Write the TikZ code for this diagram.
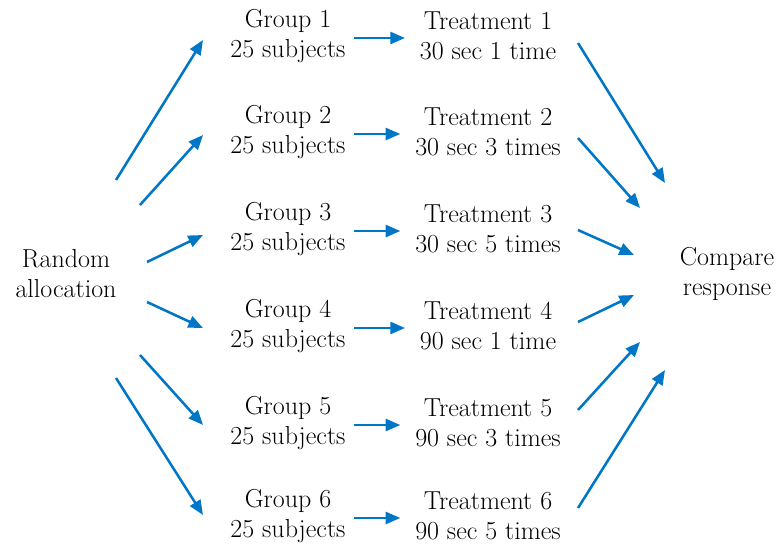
\documentclass[tikz,border=0pt]{standalone}
\usetikzlibrary{arrows.meta}
\definecolor{allocblue}{RGB}{0,118,198}
\tikzset{
	flow/.style={line width=1.9pt, color=allocblue, -{Triangle[length=11pt,width=9pt]}},
	lbl/.style={align=center, font=\fontsize{19.5}{22.5}\selectfont, inner sep=0pt}
}

\begin{document}
\begin{tikzpicture}[x=0.75pt, y=-0.75pt]
		%%%%% START %%%%%
		\useasboundingbox (0, 0) rectangle (783, 544);
		
		\node[lbl] (rand) at (66, 274) {Random\\allocation};
		\node[lbl] (cmp) at (727, 274) {Compare\\response};
		
		\node[lbl] (g1) at (288, 36) {Group 1\\25 subjects};
		\node[lbl] (g2) at (288, 132) {Group 2\\25 subjects};
		\node[lbl] (g3) at (288, 229) {Group 3\\25 subjects};
		\node[lbl] (g4) at (288, 326) {Group 4\\25 subjects};
		\node[lbl] (g5) at (288, 423) {Group 5\\25 subjects};
		\node[lbl] (g6) at (288, 516) {Group 6\\25 subjects};
		
		\node[lbl] (t1) at (488, 36) {Treatment 1\\30 sec 1 time};
		\node[lbl] (t2) at (488, 132) {Treatment 2\\30 sec 3 times};
		\node[lbl] (t3) at (488, 229) {Treatment 3\\30 sec 5 times};
		\node[lbl] (t4) at (488, 326) {Treatment 4\\90 sec 1 time};
		\node[lbl] (t5) at (488, 423) {Treatment 5\\90 sec 3 times};
		\node[lbl] (t6) at (488, 516) {Treatment 6\\90 sec 5 times};
		
		% fan out from the allocation
		\foreach \n/\x/\y in {ra1/116/180, ra2/140/205, ra3/147/262, ra4/147/302, ra5/140/355, ra6/116/378,
			ga1/203/40, ga2/203/135, ga3/203/235, ga4/203/328, ga5/203/425, ga6/203/515}
			\coordinate (\n) at (\x, \y);
		
		% fan in to the comparison
		\foreach \n/\x/\y in {tc1/578/43, tc2/578/138, tc3/578/230, tc4/578/322, tc5/578/410, tc6/578/508,
			cc1/665/183, cc2/640/208, cc3/634/255, cc4/634/295, cc5/640/342, cc6/665/370}
			\coordinate (\n) at (\x, \y);
		
		\foreach \i in {1,...,6}{
			\draw[flow] (ra\i) -- (ga\i);
			\draw[flow, shorten <=6.5pt, shorten >=11pt] ([yshift=-1.5pt]g\i.east) -- ([yshift=-1.5pt]g\i.east -| t\i.west);
			\draw[flow] (tc\i) -- (cc\i);
		}
		
		%%%%% END %%%%%
	\end{tikzpicture}
\end{document}
